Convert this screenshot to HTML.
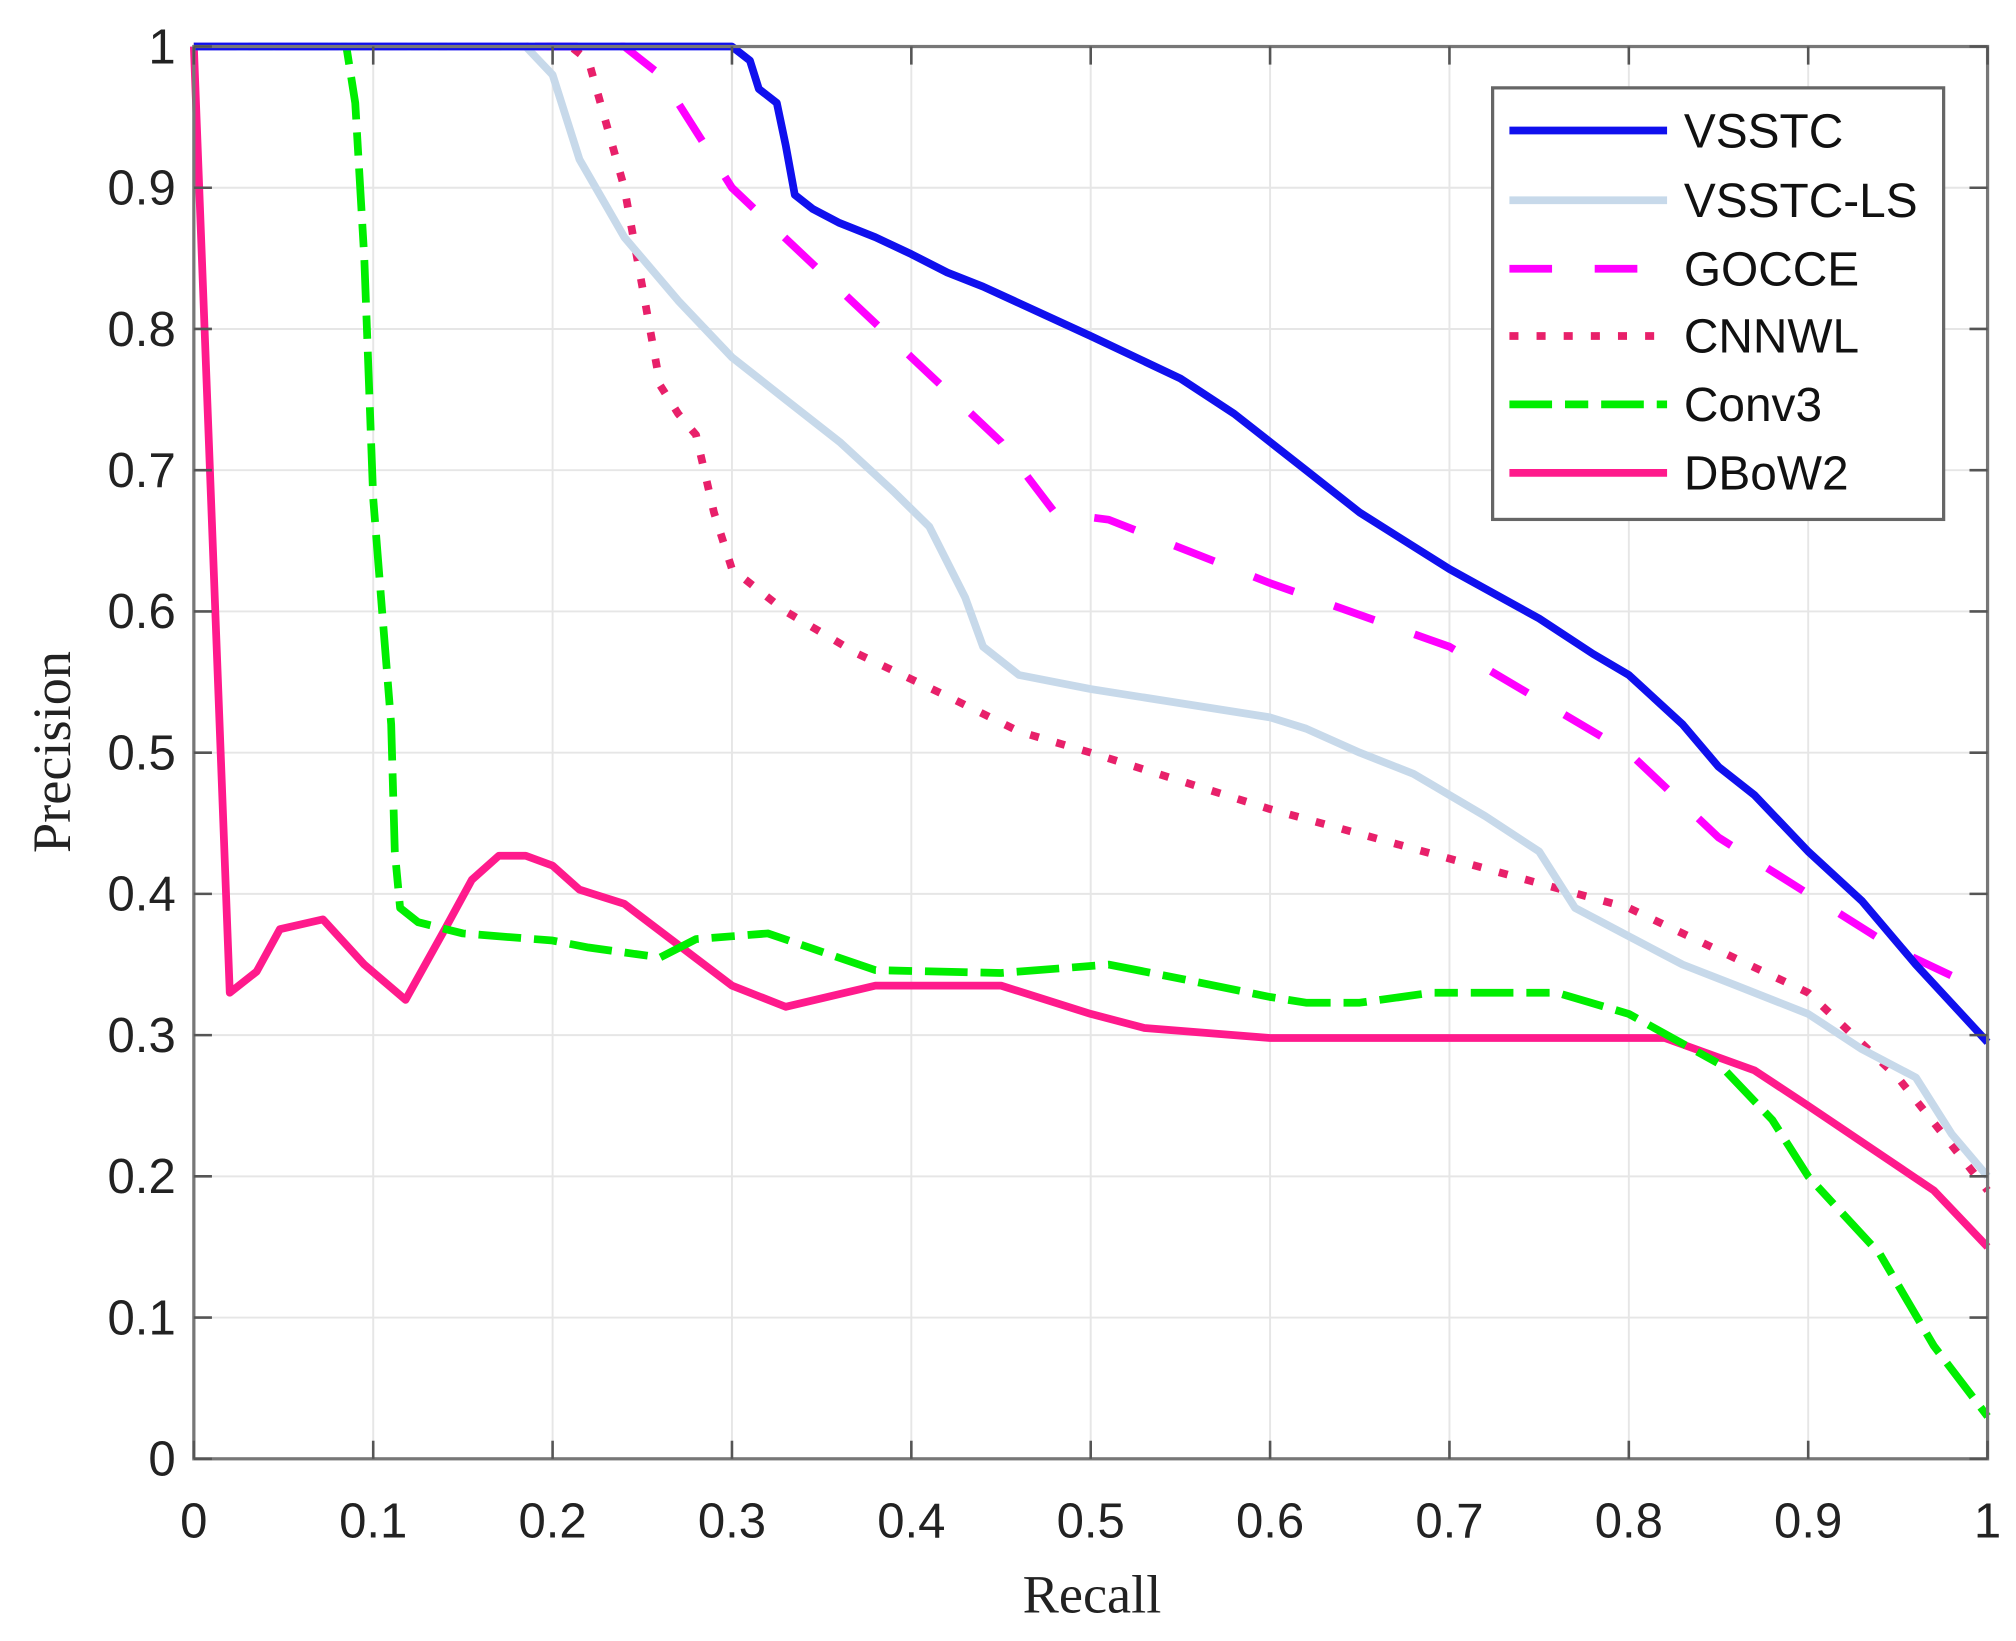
<!DOCTYPE html>
<html><head><meta charset="utf-8"><style>
html,body{margin:0;padding:0;background:#fff;width:2016px;height:1641px;overflow:hidden}
svg{display:block}
</style></head><body>
<svg id="s" width="2016" height="1641" viewBox="0 0 1560 1270" preserveAspectRatio="none" xmlns="http://www.w3.org/2000/svg">
<g id="grid"></g>
<g id="series" fill="none" stroke-linejoin="round"></g>
<g id="axes"></g>
<g id="legend"></g>
</svg>
<script>
const NS="http://www.w3.org/2000/svg";
const X0=150,X1=1538,Y0=1129,Y1=36;
const px=r=>X0+(X1-X0)*r, py=p=>Y0-(Y0-Y1)*p;
function el(parent,tag,attrs,text){const e=document.createElementNS(NS,tag);for(const k in attrs)e.setAttribute(k,attrs[k]);if(text!==undefined)e.textContent=text;document.getElementById(parent).appendChild(e);return e;}
for(let i=1;i<10;i++){
  el('grid','line',{x1:px(i/10),x2:px(i/10),y1:Y1,y2:Y0,stroke:'#e6e6e6','stroke-width':1.5});
  el('grid','line',{x1:X0,x2:X1,y1:py(i/10),y2:py(i/10),stroke:'#e6e6e6','stroke-width':1.5});
}
const S=[
 {c:'#1010ee',w:6,d:'',p:[[0,1],[0.30,1],[0.31,0.99],[0.315,0.97],[0.325,0.96],[0.33,0.93],[0.335,0.895],[0.345,0.885],[0.36,0.875],[0.38,0.865],[0.40,0.853],[0.42,0.84],[0.44,0.83],[0.5,0.795],[0.55,0.765],[0.58,0.74],[0.62,0.70],[0.65,0.67],[0.7,0.63],[0.75,0.595],[0.78,0.57],[0.8,0.555],[0.83,0.52],[0.85,0.49],[0.87,0.47],[0.9,0.43],[0.93,0.395],[0.96,0.35],[1,0.295]]},
 {c:'#c7d9ea',w:6,d:'',p:[[0,1],[0.185,1],[0.2,0.98],[0.215,0.92],[0.24,0.865],[0.27,0.82],[0.3,0.78],[0.33,0.75],[0.36,0.72],[0.39,0.685],[0.41,0.66],[0.43,0.61],[0.44,0.575],[0.46,0.555],[0.5,0.545],[0.6,0.525],[0.62,0.517],[0.65,0.5],[0.68,0.485],[0.72,0.455],[0.75,0.43],[0.77,0.39],[0.8,0.37],[0.83,0.35],[0.86,0.335],[0.9,0.315],[0.93,0.29],[0.96,0.27],[0.98,0.23],[1,0.2]]},
 {c:'#ff00ff',w:6,d:'33 33',p:[[0,1],[0.24,1],[0.26,0.98],[0.3,0.9],[0.35,0.84],[0.4,0.78],[0.45,0.72],[0.48,0.67],[0.51,0.665],[0.6,0.62],[0.7,0.575],[0.8,0.5],[0.85,0.44],[0.9,0.4],[0.95,0.36],[1,0.33]]},
 {c:'#e8206a',w:6,d:'7 14',p:[[0,1],[0.21,1],[0.22,0.99],[0.24,0.9],[0.25,0.83],[0.26,0.76],[0.27,0.74],[0.28,0.725],[0.29,0.67],[0.3,0.63],[0.33,0.6],[0.37,0.57],[0.42,0.54],[0.46,0.515],[0.5,0.5],[0.6,0.46],[0.7,0.425],[0.8,0.39],[0.85,0.36],[0.9,0.33],[0.95,0.27],[1,0.19]]},
 {c:'#00ee00',w:6,d:'33 10 18 10',p:[[0,1],[0.085,1],[0.09,0.96],[0.095,0.85],[0.1,0.68],[0.105,0.6],[0.11,0.52],[0.112,0.43],[0.115,0.39],[0.125,0.38],[0.15,0.372],[0.2,0.367],[0.22,0.362],[0.26,0.355],[0.28,0.368],[0.32,0.372],[0.38,0.346],[0.45,0.344],[0.51,0.35],[0.55,0.34],[0.6,0.327],[0.62,0.323],[0.65,0.323],[0.69,0.33],[0.76,0.33],[0.8,0.315],[0.85,0.28],[0.88,0.24],[0.9,0.2],[0.94,0.145],[0.97,0.08],[1,0.03]]},
 {c:'#ff1a8c',w:6,d:'',p:[[0,1],[0.02,0.33],[0.035,0.345],[0.048,0.375],[0.072,0.382],[0.095,0.35],[0.118,0.325],[0.14,0.375],[0.155,0.41],[0.17,0.427],[0.185,0.427],[0.2,0.42],[0.215,0.403],[0.24,0.393],[0.3,0.335],[0.33,0.32],[0.38,0.335],[0.45,0.335],[0.5,0.315],[0.53,0.305],[0.6,0.298],[0.82,0.298],[0.87,0.275],[0.9,0.25],[0.97,0.19],[1,0.15]]}
];
const order=[5,4,3,2,1,0];
for(const i of order){const s=S[i];
 const a={points:s.p.map(q=>px(q[0]).toFixed(1)+','+py(q[1]).toFixed(1)).join(' '),stroke:s.c,'stroke-width':s.w};
 if(s.d)a['stroke-dasharray']=s.d;
 el('series','polyline',a);}
el('axes','rect',{x:X0,y:Y1,width:X1-X0,height:Y0-Y1,fill:'none',stroke:'#777','stroke-width':2.5});
for(let i=0;i<=10;i++){
 const x=px(i/10),y=py(i/10);
 el('axes','line',{x1:x,x2:x,y1:Y0,y2:Y0-14,stroke:'#555','stroke-width':2});
 el('axes','line',{x1:x,x2:x,y1:Y1,y2:Y1+14,stroke:'#555','stroke-width':2});
 el('axes','line',{x1:X0,x2:X0+14,y1:y,y2:y,stroke:'#555','stroke-width':2});
 el('axes','line',{x1:X1,x2:X1-14,y1:y,y2:y,stroke:'#555','stroke-width':2});
 const lab=i==0?'0':i==10?'1':'0.'+i;
 el('axes','text',{x:x,y:1190,'text-anchor':'middle','font-family':'Liberation Sans, Arial, sans-serif','font-size':38,fill:'#222'},lab);
 el('axes','text',{x:136,y:y+13,'text-anchor':'end','font-family':'Liberation Sans, Arial, sans-serif','font-size':38,fill:'#222'},lab);
}
el('axes','text',{x:845,y:1248,'text-anchor':'middle','font-family':'Liberation Serif, serif','font-size':42,fill:'#222'},'Recall');
el('axes','text',{x:0,y:0,transform:'translate(54,582) rotate(-90)','text-anchor':'middle','font-family':'Liberation Serif, serif','font-size':42,fill:'#222'},'Precision');
el('legend','rect',{x:1155,y:68,width:349,height:334,fill:'#fff',stroke:'#666','stroke-width':2.5});
const names=['VSSTC','VSSTC-LS','GOCCE','CNNWL','Conv3','DBoW2'];
const ly=[101,155,208,260,313,366];
const lx1=1168,lx2=1290;
for(let i=0;i<6;i++){const s=S[i];
 const a={x1:lx1,x2:lx2,y1:ly[i],y2:ly[i],stroke:s.c,'stroke-width':s.w};
 if(s.d)a['stroke-dasharray']=s.d;
 el('legend','line',a);
 el('legend','text',{x:1303,y:ly[i]+13,'font-family':'Liberation Sans, Arial, sans-serif','font-size':37,fill:'#111'},names[i]);
}
</script>
</body></html>
